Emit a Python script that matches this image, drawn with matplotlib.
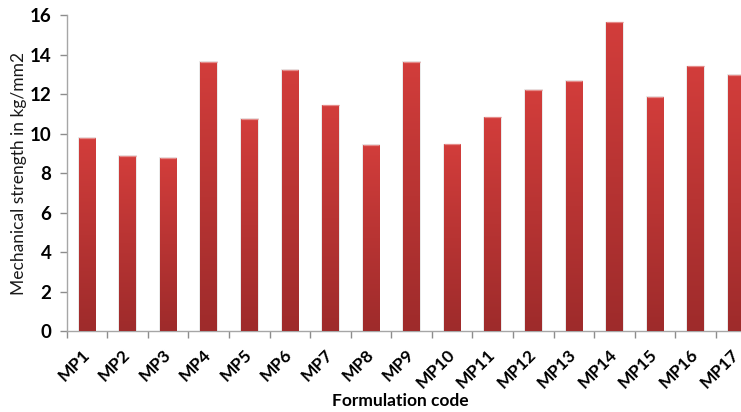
import matplotlib

matplotlib.use("Agg")

import matplotlib.pyplot as plt
import numpy as np
from matplotlib.colors import LinearSegmentedColormap

codes = ["MP1", "MP2", "MP3", "MP4", "MP5", "MP6", "MP7", "MP8", "MP9",
         "MP10", "MP11", "MP12", "MP13", "MP14", "MP15", "MP16", "MP17"]
strength = [9.77, 8.87, 8.78, 13.63, 10.74, 13.23, 11.43, 9.45, 13.65,
            9.46, 10.83, 12.21, 12.67, 15.64, 11.87, 13.41, 12.96]
y_ticks = [0, 2, 4, 6, 8, 10, 12, 14, 16]

plt.rcParams["font.family"] = ["Lato", "DejaVu Sans"]

fig = plt.figure(figsize=(7.41, 4.12), dpi=100)
# plot area runs a bit past the right edge, so the last bar is cut
ax = fig.add_axes([66.7 / 741, 81 / 412, 689.7 / 741, 315.7 / 412])

x = np.arange(len(codes))
bars = ax.bar(x, strength, width=0.41, color="#c0393a", edgecolor="none", zorder=2)

# vertical red gradient, lighter at top, darker at the base
grad_cmap = LinearSegmentedColormap.from_list("bar_red", ["#9e2b2b", "#d23d3b"])
grad = np.linspace(0, 1, 256).reshape(-1, 1)
for bar in bars:
    x0 = bar.get_x()
    x1 = x0 + bar.get_width()
    h = bar.get_height()
    # soft grey halo around the bar
    ax.bar(bar.get_x() + bar.get_width() / 2, h + 0.04, width=bar.get_width() + 0.05,
           color="#dcdcdc", alpha=0.6, edgecolor="none", zorder=1)
    im = ax.imshow(grad, cmap=grad_cmap, extent=(x0, x1, 0, h), origin="lower",
                   aspect="auto", zorder=3)
    im.set_clip_path(bar)
    ax.plot([x0, x1], [h, h], color="#e58a88", lw=0.9, zorder=4, solid_capstyle="butt")

ax.set_xlim(-0.5, len(codes) - 0.5)
ax.set_ylim(0, 16)
ax.set_yticks(y_ticks)
ax.set_yticklabels([str(v) for v in y_ticks], fontsize=13.5, fontweight="bold")

# category ticks sit between the bars
ax.set_xticks(np.arange(-0.5, len(codes) - 0.5, 1.0), minor=False)
ax.set_xticklabels([])
ax.set_xticks(x, minor=True)
ax.set_xticklabels(codes, minor=True, rotation=45, ha="right", va="center",
                   rotation_mode="anchor", fontsize=12.5, fontweight="bold")
ax.tick_params(axis="x", which="minor", length=0, pad=15)
ax.tick_params(axis="x", which="major", length=5, color="#8c8c8c", width=1)
ax.tick_params(axis="y", length=5, color="#8c8c8c", width=1, pad=6)

for side in ("top", "right"):
    ax.spines[side].set_visible(False)
for side in ("left", "bottom"):
    ax.spines[side].set_color("#a6a6a6")
    ax.spines[side].set_linewidth(1)

ax.set_ylabel("Mechanical strength in kg/mm2", fontsize=12.5, color="#1a1a1a")
ax.yaxis.set_label_coords(-40 / 689.7, 0.5)
fig.text(400 / 741, 1 - 401 / 412, "Formulation code", ha="center", va="center",
         fontsize=12.5, fontweight="bold")

fig.savefig("out.png", dpi=100)
plt.close(fig)
